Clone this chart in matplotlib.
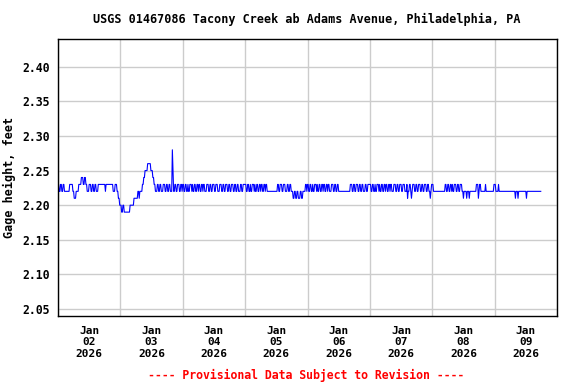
import datetime as dt
import matplotlib
matplotlib.use("Agg")
from matplotlib import pyplot as plt
import matplotlib.dates as mdates
from matplotlib.ticker import NullFormatter, FixedLocator

# gage height, one char per 15-minute reading
# code -> feet: "4"=2.19 "5"=2.20 "6"=2.21 "7"=2.22 "8"=2.23 "9"=2.24 "A"=2.25 "B"=2.26 "D"=2.28
CODES = "0123456789ABCDEF"
BASE = 2.15

jan02 = ("8877887788" "77777777" "88888" "7766677" "778" "888" "9998899"
         "8877788877" "887788777" "88888888888" "7" "88888888888" "777" "888" "77665")
jan03 = ("554455444444444" "555555" "666666" "776" "777" "78899" "AAAA" "BBBBB"
         "AAA" "99" "8877" "788778877788877887788777" "D" "A" "77887788877887")
jan04 = ("88778877" "87788878" "77887788" "78877887" "88777888" "77887788"
         "87788877" "78887788" "77888778" "87788877" "88778877" "78877888")
jan05 = ("88778877" "87788878" "77887788" "78877887" "88" "77777777777777"
         "77887788" "87788877" "78877887" "77" "6677667766677667" "777887")
jan06 = ("88778877" "87788878" "77887788" "78877887" "88777888" "77887788"
         "7777777777777777" "77888778" "87788877" "88778877" "78877888")
jan07 = ("88778877" "87788878" "77887788" "78877887" "88777888" "77887788"
         "87788877" "78" "6" "77887" "6" "78887788" "77888778" "87788877" "8877"
         "6" "78")
jan08 = ("887" "77777777777777777" "88778877887" "8778887788778887" "76" "7777"
         "6" "777" "6" "7777777777" "8886788" "7777777" "8" "77777777777" "78")
jan09 = ("887" "777" "8" "7777777777777777777777777" "6" "777" "6"
         "777777777777" "6" "7777777777777777777777")

days = [jan02, jan03, jan04, jan05, jan06, jan07, jan08, jan09]
y_ticks = [2.05, 2.10, 2.15, 2.20, 2.25, 2.30, 2.35, 2.40]
title = "USGS 01467086 Tacony Creek ab Adams Avenue, Philadelphia, PA"
y_label = "Gage height, feet"
note = "---- Provisional Data Subject to Revision ----"

codes = "".join(days)
heights = [round(BASE + CODES.index(c) / 100, 2) for c in codes]
start = dt.datetime(2026, 1, 2)
times = [start + dt.timedelta(minutes=15 * i) for i in range(len(heights))]

font = {"family": "DejaVu Sans Mono", "weight": "bold"}

fig = plt.figure(figsize=(5.76, 3.84), dpi=100)
ax = fig.add_axes([58 / 576, 1 - 316 / 384, 499 / 576, 277 / 384])

ax.plot(times, heights, color="#0000ff", lw=0.8)

ax.set_xlim(start, start + dt.timedelta(days=8))
ax.set_ylim(2.04, 2.44)
ax.yaxis.set_major_locator(FixedLocator(y_ticks))
ax.set_yticklabels(["%.2f" % v for v in y_ticks], **font, fontsize=8.3)

ax.xaxis.set_major_locator(mdates.DayLocator())
ax.xaxis.set_major_formatter(NullFormatter())
ax.xaxis.set_minor_locator(mdates.HourLocator(byhour=12))
ax.xaxis.set_minor_formatter(mdates.DateFormatter("%b\n%d\n%Y"))
for lbl in ax.xaxis.get_minorticklabels():
    lbl.set_fontfamily("DejaVu Sans Mono")
    lbl.set_fontweight("bold")
    lbl.set_fontsize(8)

ax.tick_params(axis="both", which="both", length=0)
ax.tick_params(axis="y", pad=6)
ax.tick_params(axis="x", which="minor", pad=7)
ax.grid(True, which="major", color="#cccccc", lw=1)
ax.set_axisbelow(True)
for sp in ax.spines.values():
    sp.set_linewidth(1)

ax.set_ylabel(y_label, **font, fontsize=8.5)
ax.yaxis.set_label_coords(-0.085, 0.5)

fig.text(307 / 576, 1 - 19 / 384, title, ha="center", va="center", fontsize=8.5, **font)
fig.text(306 / 576, 1 - 375 / 384, note, ha="center", va="center", fontsize=8.3,
         color="#ff0000", **font)

fig.savefig("out.png", dpi=100)
